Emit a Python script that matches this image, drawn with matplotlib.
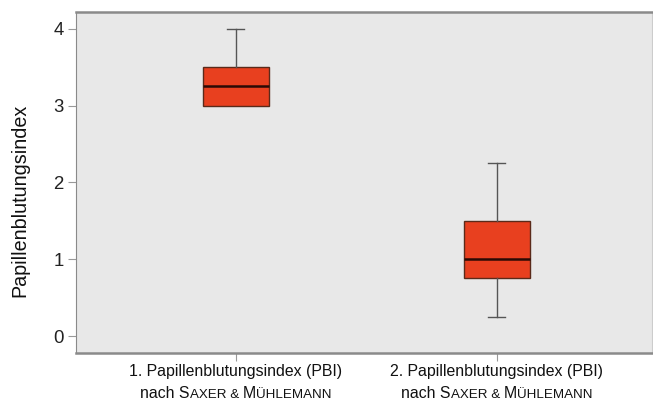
import matplotlib.pyplot as plt
from matplotlib import font_manager
from matplotlib.offsetbox import TextArea, HPacker, VPacker, AnnotationBbox

# five-number summaries of the two PBI measurements
groups = ['1.', '2.']
whisker_low = [3.0, 0.25]
q1 = [3.0, 0.75]
median = [3.25, 1.0]
q3 = [3.5, 1.5]
whisker_high = [4.0, 2.25]
positions = [1, 2]

stats = []
for i in range(len(groups)):
    stats.append({'whislo': whisker_low[i], 'q1': q1[i], 'med': median[i],
                  'q3': q3[i], 'whishi': whisker_high[i], 'fliers': []})

# prefer a narrow face if one is around
names = {f.name for f in font_manager.fontManager.ttflist}
narrow = 'Liberation Sans Narrow' in names
family = 'Liberation Sans Narrow' if narrow else 'Liberation Sans'
scale = 1.0 if narrow else 0.88
plt.rcParams['font.family'] = [family, 'DejaVu Sans']

fig = plt.figure(figsize=(6.53, 4.09), dpi=100)
ax = fig.add_axes([0.1164, 0.137, 0.882, 0.834])
ax.set_facecolor('#e8e8e8')

res = ax.bxp(stats, positions=positions, widths=0.253, capwidths=0.065,
             patch_artist=True, showfliers=False,
             boxprops=dict(facecolor='#e8401f', edgecolor='#5a2a1a', linewidth=1),
             medianprops=dict(color='#2a0a05', linewidth=1.8),
             whiskerprops=dict(color='#555555', linewidth=1),
             capprops=dict(color='#555555', linewidth=1))

# no cap where the whisker has zero length
for i in range(len(groups)):
    if whisker_low[i] == q1[i]:
        res['caps'][2 * i].set_visible(False)
    if whisker_high[i] == q3[i]:
        res['caps'][2 * i + 1].set_visible(False)

ax.set_xlim(0.387, 2.594)
ax.set_ylim(-0.22, 4.22)
ax.set_yticks([0, 1, 2, 3, 4])
ax.tick_params(axis='y', labelsize=15.3 * scale, length=6, color='#999999',
               pad=3, labelcolor='#222222')
ax.tick_params(axis='x', length=6, color='#999999', labelbottom=False)
ax.set_xticks(positions)
ax.set_ylabel('Papillenblutungsindex', fontsize=16.2 * scale, color='#111111',
              va='center')
ax.yaxis.set_label_coords(-0.097, 0.446)

for side in ['top', 'bottom']:
    ax.spines[side].set_color('#8a8a8a')
    ax.spines[side].set_linewidth(1.8)
ax.spines['left'].set_color('#8a8a8a')
ax.spines['right'].set_color('#cccccc')

# category labels with small caps for the author names
big = dict(fontsize=13 * scale, color='#111111')
small = dict(fontsize=11 * scale, color='#111111')
for pos, g in zip(positions, groups):
    line1 = TextArea(g + ' Papillenblutungsindex (PBI)', textprops=big)
    line2 = HPacker(children=[TextArea('nach S', textprops=big),
                              TextArea('AXER & ', textprops=small),
                              TextArea('M', textprops=big),
                              TextArea('ÜHLEMANN', textprops=small)],
                    align='baseline', pad=0, sep=0)
    box = VPacker(children=[line1, line2], align='center', pad=0, sep=5)
    ab = AnnotationBbox(box, (pos, 0), xycoords=('data', 'axes fraction'),
                        xybox=(0, -8), boxcoords='offset points',
                        box_alignment=(0.5, 1), frameon=False)
    ax.add_artist(ab)

fig.savefig('out.png', dpi=100, facecolor='white')
